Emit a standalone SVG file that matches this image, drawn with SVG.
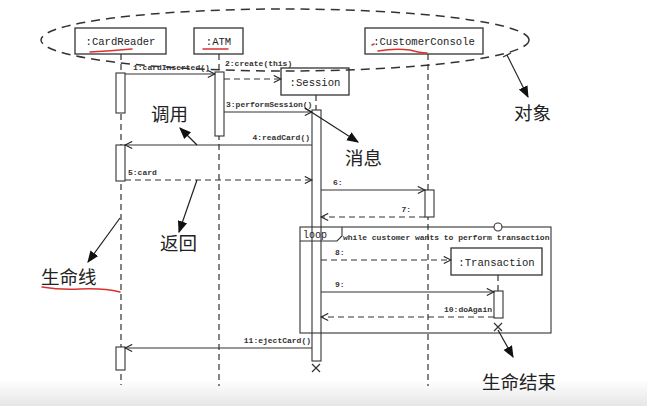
<svg xmlns="http://www.w3.org/2000/svg" width="647" height="406" viewBox="0 0 647 406">
  <defs>
    <marker id="open" viewBox="0 0 10 10" refX="9" refY="5" markerWidth="9" markerHeight="9" markerUnits="userSpaceOnUse" orient="auto">
      <path d="M1,1 L9,5 L1,9" fill="none" stroke="#222" stroke-width="1.2"/>
    </marker>
    <marker id="solid" viewBox="0 0 10 10" refX="9" refY="5" markerWidth="12" markerHeight="12" markerUnits="userSpaceOnUse" orient="auto">
      <path d="M0,1 L10,5 L0,9 Z" fill="#111"/>
    </marker>
    <linearGradient id="fade" x1="0" y1="0" x2="0" y2="1">
      <stop offset="0" stop-color="#ffffff"/>
      <stop offset="1" stop-color="#e6e6e6"/>
    </linearGradient>
    <style>
      .box { fill: #fff; stroke: #333; stroke-width: 1.3; }
      .act { fill: #fff; stroke: #333; stroke-width: 1.1; }
      .life { stroke: #333; stroke-width: 1.2; stroke-dasharray: 6 4; fill: none; }
      .name { font-family: "Liberation Mono", "DejaVu Sans Mono", monospace; font-size: 10.6px; fill: #222; }
      .lbl { font-family: "Liberation Mono", "DejaVu Sans Mono", monospace; font-size: 8px; font-weight: bold; fill: #333; }
      .call { stroke: #333; stroke-width: 1.1; fill: none; marker-end: url(#open); }
      .ret { stroke: #333; stroke-width: 1.1; fill: none; stroke-dasharray: 6 4; marker-end: url(#open); }
      .note { font-family: "Noto Sans CJK SC", sans-serif; font-size: 18.5px; fill: #222; }
      .pointer { stroke: #222; stroke-width: 1.2; fill: none; marker-end: url(#solid); }
      .ink { stroke: #d9332b; stroke-width: 1.5; fill: none; stroke-linecap: round; }
      .xmark { stroke: #333; stroke-width: 1.2; }
    </style>
  </defs>

  <rect width="647" height="406" fill="#fff"/>
  <rect x="0" y="380" width="647" height="26" fill="url(#fade)"/>

  <!-- lifelines -->
  <g id="lifelines">
    <line class="life" x1="121" y1="54" x2="121" y2="385"/>
    <line class="life" x1="219" y1="54" x2="219" y2="386"/>
    <line class="life" x1="428" y1="54" x2="428" y2="386"/>
    <line class="life" x1="316" y1="95" x2="316" y2="110"/>
    <line class="life" x1="498" y1="275" x2="498" y2="291"/>
  </g>

  <!-- objects -->
  <g id="cardReader">
    <rect class="box" x="75" y="28" width="91" height="26"/>
    <text class="name" x="120.5" y="45" text-anchor="middle">:CardReader</text>
    <rect class="act" x="116" y="73" width="9" height="40"/>
    <rect class="act" x="116" y="145" width="9" height="36"/>
    <rect class="act" x="116" y="347" width="9" height="23"/>
  </g>
  <g id="atm">
    <rect class="box" x="194" y="28" width="49" height="26"/>
    <text class="name" x="218.5" y="45" text-anchor="middle">:ATM</text>
    <rect class="act" x="215" y="72" width="9" height="64"/>
  </g>
  <g id="customerConsole">
    <rect class="box" x="365" y="28" width="118" height="26"/>
    <text class="name" x="424" y="45" text-anchor="middle">:CustomerConsole</text>
    <rect class="act" x="425" y="190" width="9" height="27"/>
  </g>
  <g id="session">
    <rect class="box" x="281" y="68" width="68" height="27"/>
    <text class="name" x="315" y="86" text-anchor="middle">:Session</text>
    <rect class="act" x="312" y="110" width="9" height="251"/>
    <path class="xmark" d="M312,364 L320,372 M320,364 L312,372"/>
  </g>
  <g id="transaction">
    <rect class="box" x="451" y="248" width="91" height="27"/>
    <text class="name" x="496.5" y="266" text-anchor="middle">:Transaction</text>
    <rect class="act" x="494" y="291" width="9" height="27"/>
    <path class="xmark" d="M494,323 L502,331 M502,323 L494,331"/>
  </g>

  <!-- loop combined fragment, drawn over the activation bar -->
  <g id="loop">
    <rect x="300" y="227" width="251" height="106" fill="none" stroke="#333" stroke-width="1.1"/>
    <path d="M300,241 H337 L342,236 V227" fill="none" stroke="#333" stroke-width="1.1"/>
    <text x="303" y="238" font-family="Liberation Mono, monospace" font-size="10px" fill="#222">loop</text>
    <text class="lbl" x="343" y="240" font-weight="normal">while customer wants to perform transaction</text>
    <circle cx="498" cy="227" r="4" fill="#fff" stroke="#333" stroke-width="1.1"/>
  </g>

  <!-- messages -->
  <g id="connectors">
    <line class="call" x1="125" y1="74" x2="215" y2="74"/>
    <text class="lbl" x="133" y="70">1:cardInserted()</text>
    <line class="ret" x1="224" y1="79" x2="281" y2="79"/>
    <text class="lbl" x="225" y="66">2:create(this)</text>
    <line class="call" x1="224" y1="112" x2="312" y2="112"/>
    <text class="lbl" x="226" y="107">3:performSession()</text>
    <line class="call" x1="312" y1="145" x2="125" y2="145"/>
    <text class="lbl" x="310" y="140" text-anchor="end">4:readCard()</text>
    <line class="ret" x1="125" y1="180" x2="312" y2="180"/>
    <text class="lbl" x="128" y="175">5:card</text>
    <line class="call" x1="321" y1="190" x2="425" y2="190"/>
    <text class="lbl" x="333" y="185">6:</text>
    <line class="ret" x1="425" y1="217" x2="321" y2="217"/>
    <text class="lbl" x="411" y="212" text-anchor="end">7:</text>
    <line class="ret" x1="321" y1="260" x2="451" y2="260"/>
    <text class="lbl" x="335" y="255">8:</text>
    <line class="call" x1="321" y1="292" x2="494" y2="292"/>
    <text class="lbl" x="335" y="287">9:</text>
    <line class="ret" x1="494" y1="317" x2="321" y2="317"/>
    <text class="lbl" x="492" y="312" text-anchor="end">10:doAgain</text>
    <line class="call" x1="312" y1="348" x2="125" y2="348"/>
    <text class="lbl" x="311" y="343" text-anchor="end">11:ejectCard()</text>
  </g>

  <!-- annotations -->
  <g id="objects-note">
    <ellipse cx="285" cy="40" rx="244" ry="31" fill="none" stroke="#333" stroke-width="1.5" stroke-dasharray="9 6"/>
    <line class="pointer" x1="507" y1="55" x2="528" y2="97"/>
    <path d="M503,57 L511,53" stroke="#333" stroke-width="1.2"/>
    <text class="note" x="514" y="120">对象</text>
  </g>
  <g id="call-note">
    <line class="pointer" x1="197" y1="145" x2="180" y2="128"/>
    <text class="note" x="151" y="121">调用</text>
  </g>
  <g id="message-note">
    <line class="pointer" x1="305" y1="108" x2="358" y2="142"/>
    <text class="note" x="345" y="165">消息</text>
  </g>
  <g id="return-note">
    <line class="pointer" x1="197" y1="180" x2="179" y2="232"/>
    <text class="note" x="160" y="250">返回</text>
  </g>
  <g id="lifeline-note">
    <line class="pointer" x1="120" y1="218" x2="88" y2="262"/>
    <text class="note" x="41" y="284">生命线</text>
    <path class="ink" d="M42,287 Q60,290 80,289 Q104,288 120,292"/>
  </g>
  <g id="end-note">
    <line class="pointer" x1="498" y1="330" x2="513" y2="357"/>
    <text class="note" x="482" y="389">生命结束</text>
  </g>

  <!-- hand marks under the object names -->
  <g id="ink">
    <path class="ink" d="M90,52 Q110,51 132,49"/>
    <path class="ink" d="M203,49 L228,49"/>
    <path class="ink" d="M378,51 Q395,48 410,50 Q420,53 427,53"/>
    <path class="ink" d="M372,45 L374,44" stroke-width="1"/>
  </g>
</svg>
